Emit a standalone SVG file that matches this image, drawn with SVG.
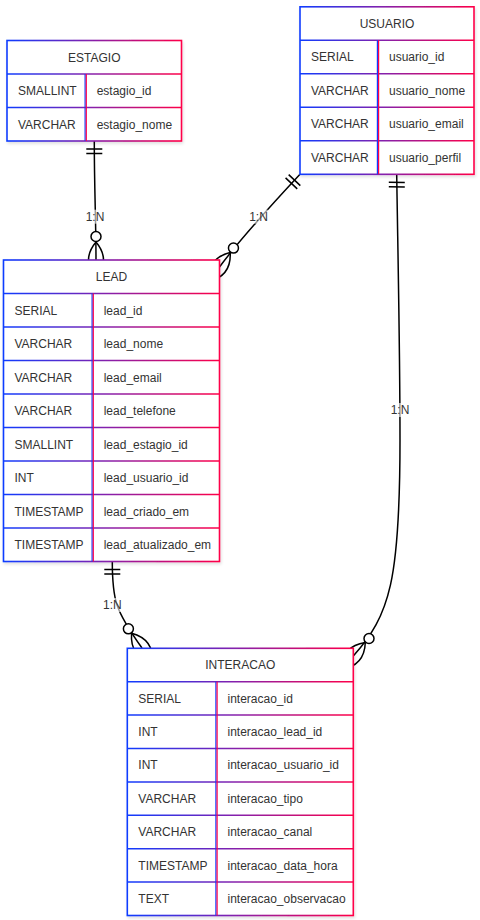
<svg xmlns="http://www.w3.org/2000/svg" width="480" height="920" viewBox="0 0 480 920">
<style>
.t{font-family:"Liberation Sans",Arial,Helvetica,sans-serif;font-size:12px;fill:#333}
.h{text-anchor:middle}
.conn{fill:none;stroke:#000;stroke-width:1.5}
.mk{fill:none;stroke:#000;stroke-width:1.5}
.circ{fill:#fff;stroke:#000;stroke-width:1.5}
.lbg{fill:#fff;fill-opacity:0.6}
.dl{stroke:#0f3cff;stroke-width:1.2}
.dr{stroke:#ff0048;stroke-width:1.2}
.box{fill:#fff;stroke-width:1.6}
.rl{stroke-width:1.5}
</style>
<defs>
<linearGradient id="gE" gradientUnits="userSpaceOnUse" x1="7" y1="0" x2="181.5" y2="0"><stop offset="0" stop-color="#0f3cff"/><stop offset="0.5" stop-color="#8a1fa8"/><stop offset="1" stop-color="#ff0048"/></linearGradient>
<linearGradient id="gU" gradientUnits="userSpaceOnUse" x1="300" y1="0" x2="474" y2="0"><stop offset="0" stop-color="#0f3cff"/><stop offset="0.5" stop-color="#8a1fa8"/><stop offset="1" stop-color="#ff0048"/></linearGradient>
<linearGradient id="gL" gradientUnits="userSpaceOnUse" x1="3.5" y1="0" x2="219.5" y2="0"><stop offset="0" stop-color="#0f3cff"/><stop offset="0.5" stop-color="#8a1fa8"/><stop offset="1" stop-color="#ff0048"/></linearGradient>
<linearGradient id="gI" gradientUnits="userSpaceOnUse" x1="127.3" y1="0" x2="353.3" y2="0"><stop offset="0" stop-color="#0f3cff"/><stop offset="0.5" stop-color="#8a1fa8"/><stop offset="1" stop-color="#ff0048"/></linearGradient>
<filter id="sh" x="-10%" y="-10%" width="120%" height="120%"><feDropShadow dx="1" dy="2" stdDeviation="1.5" flood-color="#000" flood-opacity="0.12"/></filter>
</defs>

<g id="connectors">
  <g id="c-estagio-lead">
    <path class="conn" d="M94.3,141 C94.3,190 96,220 96,260"/>
    <path class="mk" d="M86.3,149 L102.3,149 M86.3,153.5 L102.3,153.5"/>
    <path class="mk" d="M96,242 Q81,260 96,278 Q111,260 96,242"/>
    <circle class="circ" cx="96" cy="236.5" r="5"/>
    <rect class="lbg" x="85" y="209.7" width="20" height="14"/>
    <text class="t h" x="95" y="220.9">1:N</text>
  </g>
  <g id="c-usuario-lead">
    <path class="conn" d="M300,174.3 Q242,236.5 219.5,267"/>
    <path class="mk" d="M288.67,174.62 L300.33,185.58 M285.57,177.92 L297.23,188.88"/>
    <path class="mk" d="M230.19,252.51 Q207.43,258.09 208.81,281.49 Q231.58,275.91 230.19,252.51"/>
    <circle class="circ" cx="233.46" cy="248.08" r="5"/>
    <rect class="lbg" x="248.5" y="209.7" width="20" height="14"/>
    <text class="t h" x="258.5" y="220.9">1:N</text>
  </g>
  <g id="c-usuario-interacao">
    <path class="conn" d="M396.7,174.3 C398,260 400,350 400,440 C400,580 390,615 353.3,656"/>
    <path class="mk" d="M388.8,182.2 L404.8,182.4 M388.8,186.7 L404.8,186.9"/>
    <path class="mk" d="M365.31,642.59 Q342.13,646 341.29,669.41 Q364.48,666 365.31,642.59"/>
    <circle class="circ" cx="369" cy="638.5" r="5"/>
    <rect class="lbg" x="390" y="403" width="20" height="14"/>
    <text class="t h" x="400" y="414.2">1:N</text>
  </g>
  <g id="c-lead-interacao">
    <path class="conn" d="M112.3,561.5 C112.3,600 115,610 142,648"/>
    <path class="mk" d="M104.3,569.5 L120.3,569.5 M104.3,574 L120.3,574"/>
    <path class="mk" d="M131.58,633.33 Q129.78,656.69 152.42,662.67 Q154.23,639.32 131.58,633.33"/>
    <circle class="circ" cx="128.4" cy="628.85" r="5"/>
    <rect class="lbg" x="102.3" y="598" width="20" height="14"/>
    <text class="t h" x="112.3" y="609.2">1:N</text>
  </g>
</g>

<g id="ESTAGIO">
  <rect class="box" x="7" y="40.5" width="174.5" height="100.5" stroke="url(#gE)" filter="url(#sh)"/>
  <g class="rl" stroke="url(#gE)">
    <line x1="7" y1="74" x2="181.5" y2="74"/>
    <line x1="7" y1="107.5" x2="181.5" y2="107.5"/>
  </g>
  <line class="dl" x1="85.1" y1="74" x2="85.1" y2="141"/>
  <line class="dr" x1="86.3" y1="74" x2="86.3" y2="141"/>
  <text class="t h" x="94.25" y="61.5">ESTAGIO</text>
  <text class="t" x="18" y="95">SMALLINT</text>
  <text class="t" x="96.7" y="95">estagio_id</text>
  <text class="t" x="18" y="128.5">VARCHAR</text>
  <text class="t" x="96.7" y="128.5">estagio_nome</text>
</g>

<g id="USUARIO">
  <rect class="box" x="300" y="6.8" width="174" height="167.5" stroke="url(#gU)" filter="url(#sh)"/>
  <g class="rl" stroke="url(#gU)">
    <line x1="300" y1="40.3" x2="474" y2="40.3"/>
    <line x1="300" y1="73.8" x2="474" y2="73.8"/>
    <line x1="300" y1="107.3" x2="474" y2="107.3"/>
    <line x1="300" y1="140.8" x2="474" y2="140.8"/>
  </g>
  <line class="dl" x1="377.4" y1="40.3" x2="377.4" y2="174.3"/>
  <line class="dr" x1="378.6" y1="40.3" x2="378.6" y2="174.3"/>
  <text class="t h" x="387" y="27.8">USUARIO</text>
  <text class="t" x="311" y="61.2">SERIAL</text>
  <text class="t" x="389" y="61.2">usuario_id</text>
  <text class="t" x="311" y="94.7">VARCHAR</text>
  <text class="t" x="389" y="94.7">usuario_nome</text>
  <text class="t" x="311" y="128.2">VARCHAR</text>
  <text class="t" x="389" y="128.2">usuario_email</text>
  <text class="t" x="311" y="161.7">VARCHAR</text>
  <text class="t" x="389" y="161.7">usuario_perfil</text>
</g>

<g id="LEAD">
  <rect class="box" x="3.5" y="260" width="216" height="301.5" stroke="url(#gL)" filter="url(#sh)"/>
  <g class="rl" stroke="url(#gL)">
    <line x1="3.5" y1="293.5" x2="219.5" y2="293.5"/>
    <line x1="3.5" y1="327" x2="219.5" y2="327"/>
    <line x1="3.5" y1="360.5" x2="219.5" y2="360.5"/>
    <line x1="3.5" y1="394" x2="219.5" y2="394"/>
    <line x1="3.5" y1="427.5" x2="219.5" y2="427.5"/>
    <line x1="3.5" y1="461" x2="219.5" y2="461"/>
    <line x1="3.5" y1="494.5" x2="219.5" y2="494.5"/>
    <line x1="3.5" y1="528" x2="219.5" y2="528"/>
  </g>
  <line class="dl" x1="92.1" y1="293.5" x2="92.1" y2="561.5"/>
  <line class="dr" x1="93.3" y1="293.5" x2="93.3" y2="561.5"/>
  <text class="t h" x="111.5" y="281">LEAD</text>
  <text class="t" x="14.5" y="314.5">SERIAL</text>
  <text class="t" x="103.7" y="314.5">lead_id</text>
  <text class="t" x="14.5" y="348">VARCHAR</text>
  <text class="t" x="103.7" y="348">lead_nome</text>
  <text class="t" x="14.5" y="381.5">VARCHAR</text>
  <text class="t" x="103.7" y="381.5">lead_email</text>
  <text class="t" x="14.5" y="415">VARCHAR</text>
  <text class="t" x="103.7" y="415">lead_telefone</text>
  <text class="t" x="14.5" y="448.5">SMALLINT</text>
  <text class="t" x="103.7" y="448.5">lead_estagio_id</text>
  <text class="t" x="14.5" y="482">INT</text>
  <text class="t" x="103.7" y="482">lead_usuario_id</text>
  <text class="t" x="14.5" y="515.5">TIMESTAMP</text>
  <text class="t" x="103.7" y="515.5">lead_criado_em</text>
  <text class="t" x="14.5" y="549">TIMESTAMP</text>
  <text class="t" x="103.7" y="549">lead_atualizado_em</text>
</g>

<g id="INTERACAO">
  <rect class="box" x="127.3" y="648.3" width="226" height="267.2" stroke="url(#gI)" filter="url(#sh)"/>
  <g class="rl" stroke="url(#gI)">
    <line x1="127.3" y1="681.7" x2="353.3" y2="681.7"/>
    <line x1="127.3" y1="715.1" x2="353.3" y2="715.1"/>
    <line x1="127.3" y1="748.5" x2="353.3" y2="748.5"/>
    <line x1="127.3" y1="781.9" x2="353.3" y2="781.9"/>
    <line x1="127.3" y1="815.3" x2="353.3" y2="815.3"/>
    <line x1="127.3" y1="848.7" x2="353.3" y2="848.7"/>
    <line x1="127.3" y1="882.1" x2="353.3" y2="882.1"/>
  </g>
  <line class="dl" x1="215.9" y1="681.7" x2="215.9" y2="915.5"/>
  <line class="dr" x1="217.1" y1="681.7" x2="217.1" y2="915.5"/>
  <text class="t h" x="240.3" y="669.2">INTERACAO</text>
  <text class="t" x="138.3" y="702.6">SERIAL</text>
  <text class="t" x="227.5" y="702.6">interacao_id</text>
  <text class="t" x="138.3" y="736">INT</text>
  <text class="t" x="227.5" y="736">interacao_lead_id</text>
  <text class="t" x="138.3" y="769.4">INT</text>
  <text class="t" x="227.5" y="769.4">interacao_usuario_id</text>
  <text class="t" x="138.3" y="802.8">VARCHAR</text>
  <text class="t" x="227.5" y="802.8">interacao_tipo</text>
  <text class="t" x="138.3" y="836.2">VARCHAR</text>
  <text class="t" x="227.5" y="836.2">interacao_canal</text>
  <text class="t" x="138.3" y="869.6">TIMESTAMP</text>
  <text class="t" x="227.5" y="869.6">interacao_data_hora</text>
  <text class="t" x="138.3" y="903">TEXT</text>
  <text class="t" x="227.5" y="903">interacao_observacao</text>
</g>
</svg>
